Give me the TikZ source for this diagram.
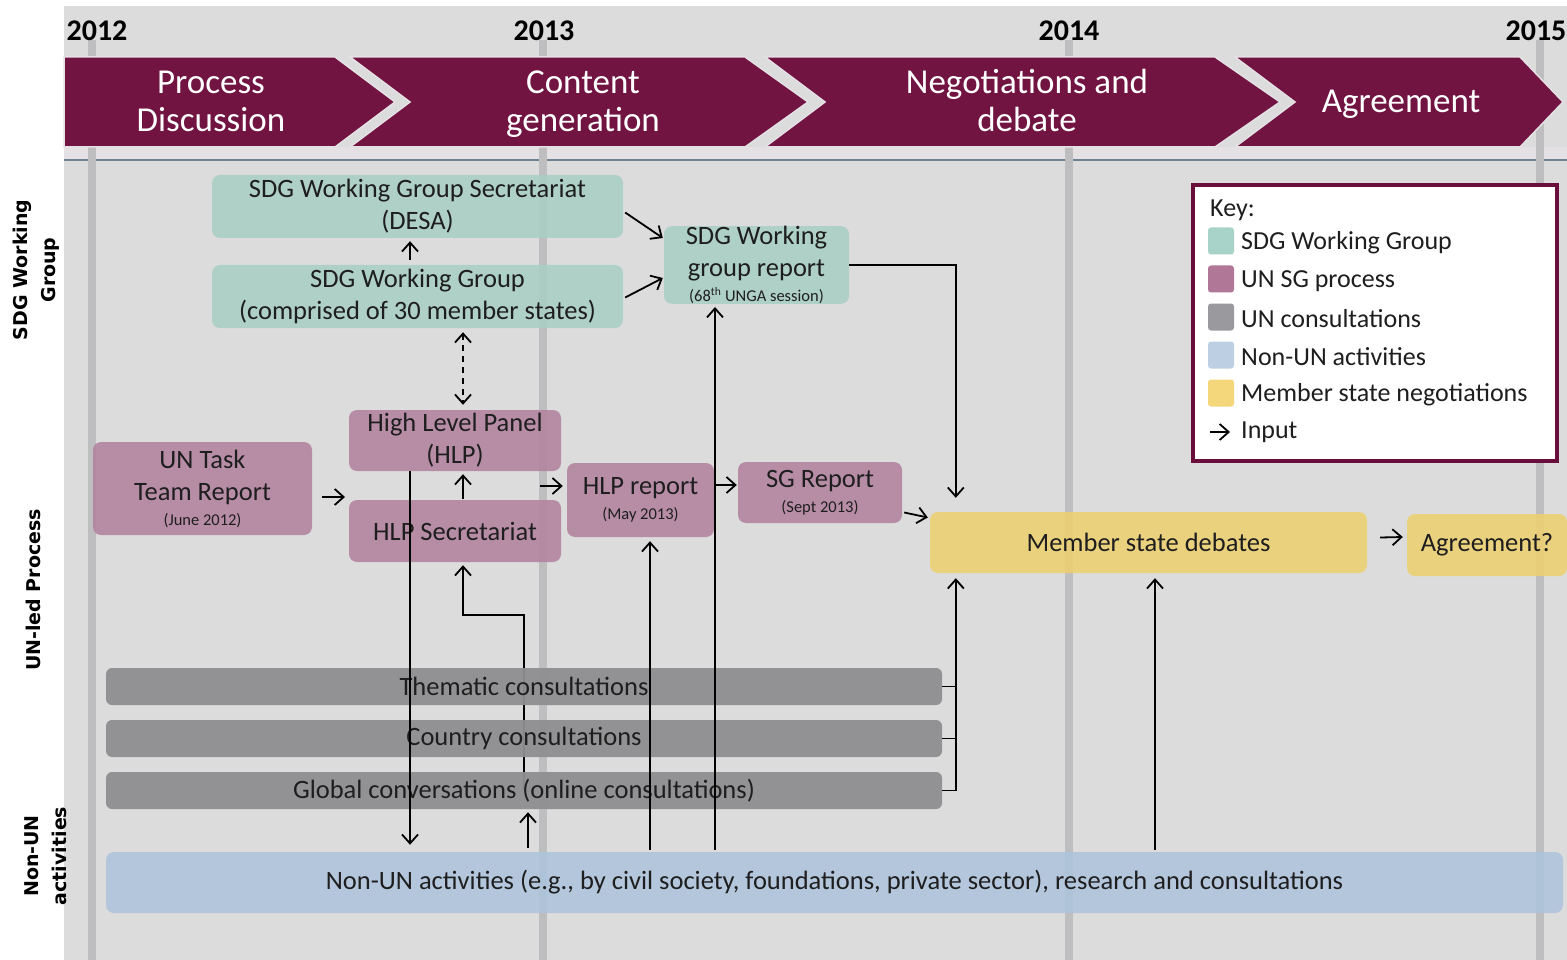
\documentclass[tikz,border=0pt]{standalone}
\usepackage{fontspec}
\setmainfont{Carlito}
\newfontfamily\labfont{DejaVu Sans}
\usetikzlibrary{arrows.meta,calc}
\definecolor{bgc}{HTML}{DCDCDC}
\definecolor{yearc}{HTML}{BEBEC0}
\definecolor{maroon}{HTML}{711441}
\definecolor{bandc}{HTML}{E4E0E4}
\definecolor{hlinec}{HTML}{6F8292}
\definecolor{tealc}{HTML}{A9CFC4}
\definecolor{pinkc}{HTML}{B3839F}
\definecolor{grayc}{HTML}{8F8F91}
\definecolor{bluec}{HTML}{AEC4DC}
\definecolor{yelc}{HTML}{EDD071}
\definecolor{keyc}{HTML}{6A0F3C}
\definecolor{txt}{HTML}{1E1E1E}
\definecolor{ktealc}{HTML}{A8D3C8}
\definecolor{kpinkc}{HTML}{B07796}
\definecolor{kgrayc}{HTML}{9A9A9E}
\definecolor{kbluec}{HTML}{BDD0E3}
\definecolor{kyelc}{HTML}{F5D77B}
\newcommand\mainsz{\fontsize{26.5}{32}\selectfont}
\newcommand\smallsz{\fontsize{16.5}{18}\selectfont}
\pgfdeclarelayer{bgl}
\pgfsetlayers{bgl,main}
\tikzset{
  box/.style={rounded corners=8, inner sep=0pt, align=center, text=txt, font=\mainsz, fill opacity=0.88, text opacity=1},
  wgbox/.style={box, fill=tealc},
  sgbox/.style={box, fill=pinkc},
  conbox/.style={box, fill=grayc, rounded corners=6, fill opacity=0.95},
  nonbox/.style={box, fill=bluec},
  msbox/.style={box, fill=yelc},
  arr/.style={line width=1.8, -{Straight Barb[length=9,width=16]}},
  dasharr/.style={line width=1.8, dash pattern=on 6 off 5, {Straight Barb[length=9,width=16]}-{Straight Barb[length=9,width=16]}},
  plain/.style={line width=1.8},
  yearlab/.style={font=\fontsize{30}{32}\selectfont\bfseries, text=black, inner sep=0pt},
  bannertxt/.style={font=\fontsize{35}{38}\selectfont, text=white, align=center, inner sep=0pt},
  sidelab/.style={font=\labfont\bfseries\fontsize{19}{28}\selectfont, text=black, align=center, inner sep=0pt, rotate=90},
  keytxt/.style={font=\fontsize{26}{30}\selectfont, text=txt, inner sep=0pt, anchor=west},
  keysq/.style={minimum width=26, minimum height=27, inner sep=0pt, rounded corners=3},
  chev/.style={fill=maroon, draw=bandc, line width=1.5},
}
\begin{document}
\begin{tikzpicture}[x=1pt,y=-1pt]
\useasboundingbox (0,0) rectangle (1567,960);
\begin{pgfonlayer}{bgl}
\fill[white] (0,0) rectangle (1567,960);
\fill[bgc] (64,6) rectangle (1567,960);
\fill[bandc] (64,147) rectangle (1567,159);
\draw[hlinec, line width=2] (64,160) -- (1567,160);
\foreach \x in {92,543,1069,1540} \draw[yearc, line width=8] (\x,40) -- (\x,960);
\end{pgfonlayer}

% years
\node[yearlab] (y12) at (97,31) {2012};
\node[yearlab] (y13) at (544,31) {2013};
\node[yearlab] (y14) at (1069,31) {2014};
\node[yearlab] (y15) at (1536,31) {2015};

% banner
\filldraw[chev] (64,57) -- (335,57) -- (395,102) -- (335,147) -- (64,147) -- cycle;
\filldraw[chev] (350,57) -- (745,57) -- (808,102) -- (745,147) -- (350,147) -- (410,102) -- cycle;
\filldraw[chev] (765,57) -- (1215,57) -- (1280,102) -- (1215,147) -- (765,147) -- (825,102) -- cycle;
\filldraw[chev] (1235,57) -- (1520,57) -- (1563,102) -- (1520,147) -- (1235,147) -- (1295,102) -- cycle;
\node[bannertxt] (b1) at (211,101) {Process\\Discussion};
\node[bannertxt] (b2) at (583,104) {Content\\generation};
\node[bannertxt] (b3) at (1027,100) {Negotiations and\\debate};
\node[bannertxt] (b4) at (1401,104) {Agreement};

% side labels
\node[sidelab] (l1) at (36,270) {SDG Working\\Group};
\node[sidelab] (l2) at (33,590) {UN-led Process};
\node[sidelab] (l3) at (46,856) {Non-UN\\activities};

% nodes
\node[wgbox, minimum width=411, minimum height=63] (desa) at (417.5,206.5) {SDG Working Group Secretariat\\(DESA)};
\node[wgbox, minimum width=411, minimum height=63] (wg) at (417.5,296.5) {SDG Working Group\\(comprised of 30 member states)};
\node[wgbox, minimum width=185, minimum height=76] (wgr) at (756.5,265) {SDG Working\\group report\\[-7pt]{\smallsz (68\textsuperscript{th} UNGA session)}};
\node[sgbox, minimum width=212, minimum height=61] (hlp) at (455,440.5) {High Level Panel\\(HLP)};
\node[sgbox, minimum width=219, minimum height=93] (untt) at (202.5,488.5) {UN Task\\Team Report\\[-7pt]{\smallsz (June 2012)}};
\node[sgbox, minimum width=212, minimum height=62] (hlps) at (455,531) {HLP Secretariat};
\node[sgbox, minimum width=147, minimum height=74] (hlpr) at (640.5,500) {HLP report\\[-7pt]{\smallsz (May 2013)}};
\node[sgbox, minimum width=164, minimum height=61] (sgr) at (820,492.5) {SG Report\\[-7pt]{\smallsz (Sept 2013)}};
\node[msbox, minimum width=437, minimum height=61] (msd) at (1148.5,542.5) {Member state debates};
\node[msbox, minimum width=160, minimum height=62] (agr) at (1487,545) {Agreement?};
\node[conbox, minimum width=836, minimum height=37] (them) at (524,686.5) {Thematic consultations};
\node[conbox, minimum width=836, minimum height=37] (country) at (524,738.5) {Country consultations};
\node[conbox, minimum width=836, minimum height=37] (global) at (524,790.5) {Global conversations (online consultations)};
\node[nonbox, minimum width=1457, minimum height=61] (nonun) at (834.5,882.5) {Non-UN activities (e.g., by civil society, foundations, private sector), research and consultations};

% key
\node[draw=keyc, line width=4, fill=white, minimum width=364, minimum height=276, inner sep=0pt] (key) at (1375,323) {};
\node[keytxt] (kh) at (1210,210) {Key:};
\node[keysq, fill=ktealc] (k1) at (1221,241) {};
\node[keysq, fill=kpinkc] (k2) at (1221,279) {};
\node[keysq, fill=kgrayc] (k3) at (1221,317) {};
\node[keysq, fill=kbluec] (k4) at (1221,355) {};
\node[keysq, fill=kyelc] (k5) at (1221,393) {};
\node[keytxt] (kt1) at (1241,243) {SDG Working Group};
\node[keytxt] (kt2) at (1241,281) {UN SG process};
\node[keytxt] (kt3) at (1241,319) {UN consultations};
\node[keytxt] (kt4) at (1241,357) {Non-UN activities};
\node[keytxt] (kt5) at (1241,395) {Member state negotiations};
\node[keytxt] (kt6) at (1241,432) {Input};
\coordinate (ka1) at (1210,432);
\coordinate (ka2) at (1230,432);
\draw[arr] (ka1) -- (ka2);

% connectors
\draw[arr] ($(desa.east)+(2,6)$) -- ($(wgr.west)+(-1,-27)$);
\draw[arr] ($(wg.east)+(2,1)$) -- ($(wgr.west)+(-1,13)$);
\draw[arr] ($(wg.north)+(-7.5,-5)$) -- ($(desa.south)+(-7.5,3)$);
\draw[dasharr] ($(wg.south)+(45.5,4)$) -- ($(hlp.north)+(8,-5)$);
\coordinate (hlpin) at (345,497);
\draw[arr] ($(untt.east)+(10,8.5)$) -- (hlpin);
\draw[arr] ($(hlps.north)+(8,-1)$) -- ($(hlp.south)+(8,3)$);
\coordinate (hlpout) at (540,486);
\draw[arr] (hlpout) -- ($(hlpout -| hlpr.west)+(-4,0)$);
\draw[arr] ($(hlpr.east)+(2,-15)$) -- ($(sgr.west)+(-1,-7.5)$);
\draw[arr] ($(sgr.east)+(2,20)$) -- ($(msd.west)+(-2,-25)$);
\coordinate (mtop) at ($(msd.north west)+(26,-14)$);
\draw[arr] (wgr.east) -| (mtop);
\draw[arr] ($(msd.east)+(13,-5)$) -- ($(agr.west)+(-4,-8)$);
\coordinate (mbot) at ($(msd.south west)+(26,5)$);
\draw[plain] (them.east) -- (them.east -| mbot);
\draw[plain] (country.east) -- (country.east -| mbot);
\draw[arr] (global.east) -| (mbot);
\coordinate (m2) at ($(msd.south)+(6.5,5)$);
\draw[arr] ($(m2 |- nonun.north)+(0,-2)$) -- (m2);
\coordinate (w2) at ($(wgr.south)+(-41.5,3)$);
\draw[arr] ($(w2 |- nonun.north)+(0,-2)$) -- (w2);
\coordinate (r2) at ($(hlpr.south)+(9.5,4)$);
\draw[arr] ($(r2 |- nonun.north)+(0,-2)$) -- (r2);
\coordinate (h2) at ($(hlp.south)+(-45,0)$);
\draw[arr] (h2) -- ($(h2 |- nonun.north)+(0,-7)$);
\coordinate (g2) at ($(global.south)+(4,3)$);
\draw[arr] ($(g2 |- nonun.north)+(0,-4)$) -- (g2);
\coordinate (s2) at ($(hlps.south)+(8,3)$);
\begin{pgfonlayer}{bgl}
\draw[arr] (global.center) -- ++(0,-175.5) -| (s2);
\end{pgfonlayer}
\end{tikzpicture}
\end{document}
